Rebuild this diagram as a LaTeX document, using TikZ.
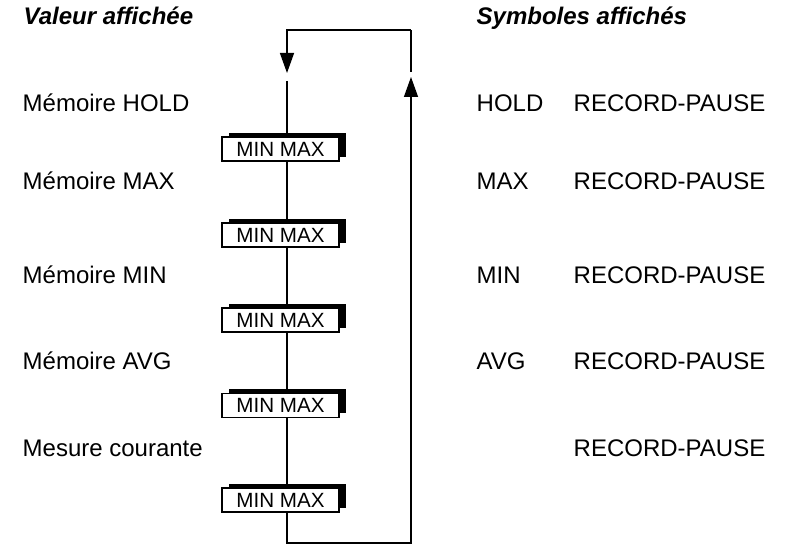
\documentclass[tikz,border=0pt]{standalone}
\usepackage{fontspec}
\setmainfont{Liberation Sans}
\usetikzlibrary{arrows.meta,shadows}

\begin{document}
\begin{tikzpicture}[x=0.5pt,y=-0.5pt,>={Triangle[length=10pt,width=7pt]},line width=0.7pt,
    lbl/.style={anchor=base west,inner sep=0pt,font=\fontsize{12}{14}\selectfont},
    head/.style={anchor=base west,inner sep=0pt,font=\fontsize{12}{14}\selectfont\bfseries\itshape},
    minmax/.style={draw,fill=white,line width=0.6pt,minimum width=58.5pt,minimum height=12pt,
      inner sep=0pt,font=\fontsize{10.3}{12}\selectfont,
      general shadow={fill=black,shadow xshift=3.25pt,shadow yshift=2pt}}]
  \useasboundingbox (0,0) rectangle (789,545);

  % titres
  \node[head] (h1) at (23,25)  {Valeur affichée};
  \node[head] (h2) at (476,25) {Symboles affichés};

  % valeurs
  \node[lbl] (v1) at (22,112)   {Mémoire HOLD};
  \node[lbl] (v2) at (22,190)   {Mémoire MAX};
  \node[lbl] (v3) at (22,283.5) {Mémoire MIN};
  \node[lbl] (v4) at (22,370)   {Mémoire AVG};
  \node[lbl] (v5) at (22,456.5) {Mesure courante};

  % symboles
  \node[lbl] (s1) at (476,112)   {HOLD};
  \node[lbl] (s2) at (476,190)   {MAX};
  \node[lbl] (s3) at (476,283.5) {MIN};
  \node[lbl] (s4) at (476,370)   {AVG};
  \node[lbl] (r1) at (573,112)   {RECORD-PAUSE};
  \node[lbl] (r2) at (573,190)   {RECORD-PAUSE};
  \node[lbl] (r3) at (573,283.5) {RECORD-PAUSE};
  \node[lbl] (r4) at (573,370)   {RECORD-PAUSE};
  \node[lbl] (r5) at (573,456.5) {RECORD-PAUSE};

  % touches
  \node[minmax] (b1) at (280.5,149)   {MIN MAX};
  \node[minmax] (b2) at (280.5,235)   {MIN MAX};
  \node[minmax] (b3) at (280.5,320)   {MIN MAX};
  \node[minmax] (b4) at (280.5,405.5) {MIN MAX};
  \node[minmax] (b5) at (280.5,500)   {MIN MAX};

  % boucle
  \coordinate (tl) at (287,30);
  \coordinate (tr) at (411,30);
  \coordinate (bl) at (287,543);
  \coordinate (br) at (411,543);
  \coordinate (la) at (287,73);
  \coordinate (lb) at (287,81);
  \coordinate (ra) at (411,102);
  \coordinate (rt) at (411,77);
  \coordinate (rc) at (411,72);

  \draw[->] (tr) -- (tl) -- (la);
  \draw (lb) -- (b1.north -| lb);
  \draw (b1.south -| lb) -- (b2.north -| lb);
  \draw (b2.south -| lb) -- (b3.north -| lb);
  \draw (b3.south -| lb) -- (b4.north -| lb);
  \draw (b4.south -| lb) -- (b5.north -| lb);
  \draw (b5.south -| lb) -- (bl) -- (br) -- (ra);
  \draw[->] (ra) -- (rt);
  \draw (rc) -- (tr);
\end{tikzpicture}
\end{document}
